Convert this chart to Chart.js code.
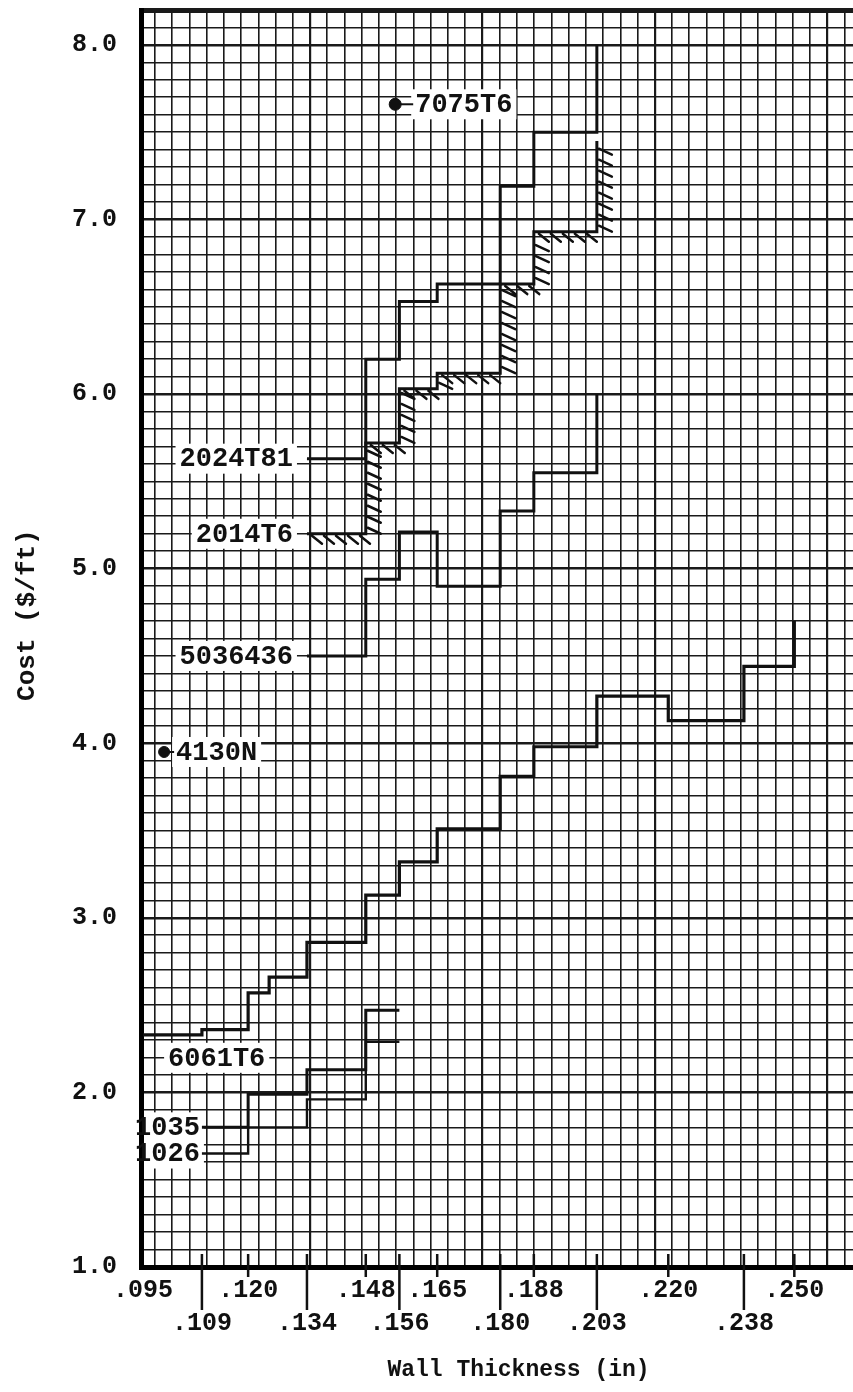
<!DOCTYPE html>
<html>
<head>
<meta charset="utf-8">
<script src="https://cdn.jsdelivr.net/npm/chart.js@4.4.1/dist/chart.umd.min.js"></script>
<style>
  html, body { margin: 0; padding: 0; background: #fff; overflow: hidden; }
  #wrap { width: 903px; height: 1392px; }
</style>
</head>
<body>
<div id="wrap"><canvas id="costChart" width="903" height="1392"></canvas></div>
<script>
// wall thickness ticks (in), the second row sits lower on the axis
const thicknessTicks = [0.095, 0.109, 0.120, 0.134, 0.148, 0.156, 0.165, 0.180, 0.188, 0.203, 0.220, 0.238, 0.250]
const lowerRowTicks = [0.109, 0.134, 0.156, 0.180, 0.203, 0.238]

// step curves: thickness where a step starts, cost ($/ft) held on that step
const t2024T81 = [0.134, 0.148, 0.156, 0.165, 0.180, 0.188, 0.203]
const c2024T81 = [5.63, 6.20, 6.53, 6.63, 7.19, 7.50, 8.00]

const t2014T6 = [0.134, 0.148, 0.156, 0.165, 0.180, 0.188, 0.203]
const c2014T6 = [5.20, 5.72, 6.03, 6.12, 6.63, 6.93, 7.45]

const t5036436 = [0.134, 0.148, 0.156, 0.165, 0.180, 0.188, 0.203]
const c5036436 = [4.50, 4.94, 5.21, 4.90, 5.33, 5.55, 6.00]

const t6061T6 = [0.095, 0.109, 0.120, 0.125, 0.134, 0.148, 0.156, 0.165, 0.180, 0.188, 0.203, 0.220, 0.238, 0.250]
const c6061T6 = [2.33, 2.36, 2.57, 2.66, 2.86, 3.13, 3.32, 3.51, 3.81, 3.98, 4.27, 4.13, 4.44, 4.70]

const t1035 = [0.109, 0.120, 0.134, 0.148, 0.156]
const c1035 = [1.80, 1.99, 2.13, 2.47, 2.47]

const t1026 = [0.109, 0.120, 0.134, 0.148, 0.156]
const c1026 = [1.65, 1.80, 1.96, 2.29, 2.29]

// single points
const p7075T6 = { x: 0.155, y: 7.66 }
const p4130N = { x: 0.100, y: 3.95 }

const TYPE = '"Liberation Mono", "DejaVu Sans Mono", monospace'
const INK = '#111'
const PAPER = '#1a1a1a'

function steps(t, c) {
    return t.map((x, i) => ({ x: x, y: c[i] }))
}

function stepLine(tag, t, c, width, extra) {
    return Object.assign({
        label: tag,
        tag: tag,
        data: steps(t, c),
        showLine: true,
        stepped: true,
        borderColor: INK,
        borderWidth: width,
        borderJoinStyle: 'miter',
        borderCapStyle: 'butt',
        pointRadius: 0,
        fill: false,
        tagSide: 'left',
        tagDx: 14
    }, extra)
}

// no extra room for half labels at the ends of an axis
function noEndPadding(s) {
    s.paddingTop = 0
    s.paddingBottom = 0
    s.paddingLeft = 0
    s.paddingRight = 0
}

// label boxes (white, over the grid, under the lines)
const tagPlugin = {
    id: 'tags',
    beforeDatasetsDraw(chart) {
        const { ctx, chartArea } = chart
        ctx.save()
        ctx.font = 'bold 27px ' + TYPE
        ctx.textBaseline = 'middle'
        chart.data.datasets.forEach((ds, i) => {
            if (!ds.tag) return
            const p = chart.getDatasetMeta(i).data[0]
            const w = ctx.measureText(ds.tag).width
            const x = ds.tagSide === 'left' ? p.x - ds.tagDx - w : p.x + ds.tagDx
            const y = p.y + (ds.tagDy || 0)
            const bx = Math.max(x - 4, chartArea.left + 3)
            ctx.fillStyle = '#fff'
            ctx.fillRect(bx, y - 15, x + w + 4 - bx, 30)
            if (ds.tagSide === 'right') {
                ctx.strokeStyle = INK
                ctx.lineWidth = 2
                ctx.beginPath()
                ctx.moveTo(p.x, p.y)
                ctx.lineTo(x - 2, p.y)
                ctx.stroke()
            }
            ctx.fillStyle = INK
            ctx.fillText(ds.tag, x, y + 1)
        })
        ctx.restore()
    }
}

// hatching on the lower / right side of the 2014T6 curve
const hatchPlugin = {
    id: 'hatch',
    afterDatasetsDraw(chart) {
        const ctx = chart.ctx
        chart.data.datasets.forEach((ds, i) => {
            if (!ds.hatched) return
            const pts = chart.getDatasetMeta(i).data
            ctx.save()
            ctx.strokeStyle = INK
            ctx.lineWidth = 2.5
            ctx.lineCap = 'round'
            ctx.beginPath()
            for (let k = 0; k < pts.length - 1; k++) {
                const a = pts[k], b = pts[k + 1]
                for (let x = a.x + 5; x < b.x - 3; x += 12) {
                    ctx.moveTo(x, a.y + 2)
                    ctx.lineTo(x + 10, a.y + 10)
                }
                const top = Math.min(a.y, b.y), bot = Math.max(a.y, b.y)
                for (let y = bot - 6; y > top + 3; y -= 11) {
                    ctx.moveTo(b.x + 2, y)
                    ctx.lineTo(b.x + 15, y + 6)
                }
            }
            ctx.stroke()
            ctx.restore()
        })
    }
}

// tick marks on the thickness axis, long ones reach down to the lower row
const tickMarkPlugin = {
    id: 'tickMarks',
    afterDraw(chart) {
        const { ctx, chartArea } = chart
        const xs = chart.scales.x
        ctx.save()
        ctx.strokeStyle = INK
        ctx.lineWidth = 2.5
        ctx.beginPath()
        thicknessTicks.slice(1).forEach(v => {
            const px = xs.getPixelForValue(v)
            ctx.moveTo(px, chartArea.bottom - 13)
            ctx.lineTo(px, chartArea.bottom + (lowerRowTicks.includes(v) ? 43 : 10))
        })
        ctx.stroke()
        ctx.restore()
    }
}

const ctx = document.getElementById('costChart').getContext('2d')
const costChart = new Chart(ctx, {
    type: 'scatter',
    data: {
        datasets: [
            stepLine('2024T81', t2024T81, c2024T81, 3),
            stepLine('2014T6', t2014T6, c2014T6, 3, { hatched: true }),
            stepLine('5036436', t5036436, c5036436, 3),
            stepLine('6061T6', t6061T6, c6061T6, 3.2, { tagSide: 'below', tagDx: 25, tagDy: 23 }),
            stepLine('1035', t1035, c1035, 3, { tagDx: 2 }),
            stepLine('1026', t1026, c1026, 2.4, { tagDx: 2 }),
            {
                label: '7075T6', tag: '7075T6', tagSide: 'right', tagDx: 20,
                data: [p7075T6], pointRadius: 6, pointBackgroundColor: INK, pointBorderColor: INK, showLine: false
            },
            {
                label: '4130N', tag: '4130N', tagSide: 'right', tagDx: 12,
                data: [p4130N], pointRadius: 5.5, pointBackgroundColor: INK, pointBorderColor: INK, showLine: false
            }
        ]
    },
    options: {
        responsive: false,
        animation: false,
        layout: { padding: { top: 10, left: 0, right: 0, bottom: 0 } },
        plugins: { legend: { display: false }, tooltip: { enabled: false } },
        scales: {
            x: {
                type: 'linear',
                position: 'bottom',
                min: 0.0945,
                max: 0.2742,
                afterBuildTicks: s => { s.ticks = thicknessTicks.map(v => ({ value: v })) },
                afterFit: s => { s.height = 125; noEndPadding(s) },
                grid: { drawOnChartArea: false, drawTicks: false },
                border: { display: true, color: '#000', width: 5 },
                ticks: {
                    autoSkip: false,
                    maxRotation: 0,
                    padding: 7,
                    color: INK,
                    font: { family: TYPE, size: 25, weight: 'bold', lineHeight: 1.32 },
                    callback: v => {
                        const s = v.toFixed(3).slice(1)
                        return lowerRowTicks.includes(v) ? ['', s] : s
                    }
                },
                title: {
                    display: true,
                    text: 'Wall Thickness (in)',
                    color: INK,
                    font: { family: TYPE, size: 23, weight: 'bold' },
                    padding: { top: 0, bottom: 8 }
                }
            },
            // graph paper columns
            paper: {
                type: 'linear',
                position: 'top',
                min: -9.805,
                max: 33.99,
                afterFit: s => { s.height = 0; noEndPadding(s) },
                ticks: { display: false, stepSize: 1, autoSkip: false, maxTicksLimit: 200, includeBounds: false },
                grid: {
                    color: PAPER,
                    lineWidth: c => (Math.round(c.tick.value) % 10 === 0 ? 2.2 : 1.6),
                    drawTicks: false
                },
                border: { display: false }
            },
            y: {
                min: 1,
                max: 8.2,
                afterFit: s => { s.width = 141; noEndPadding(s) },
                ticks: {
                    stepSize: 0.1,
                    autoSkip: false,
                    maxTicksLimit: 200,
                    padding: 24,
                    color: INK,
                    font: { family: TYPE, size: 25, weight: 'bold' },
                    callback: v => {
                        const r = Math.round(v * 10)
                        return r % 10 === 0 ? (r / 10).toFixed(1) : ''
                    }
                },
                grid: {
                    color: PAPER,
                    lineWidth: c => {
                        const r = Math.round(c.tick.value * 10)
                        if (r >= 82) return 5
                        return r % 10 === 0 ? 2.4 : 1.6
                    },
                    drawTicks: false
                },
                border: { display: true, color: '#000', width: 5 },
                title: {
                    display: true,
                    // leading spaces lift the title a little, as on the original sheet
                    text: '   Cost ($/ft)',
                    color: INK,
                    font: { family: TYPE, size: 26, weight: 'bold' },
                    padding: { top: 12, bottom: 0 }
                }
            }
        }
    },
    plugins: [tagPlugin, hatchPlugin, tickMarkPlugin]
})
</script>
</body>
</html>
